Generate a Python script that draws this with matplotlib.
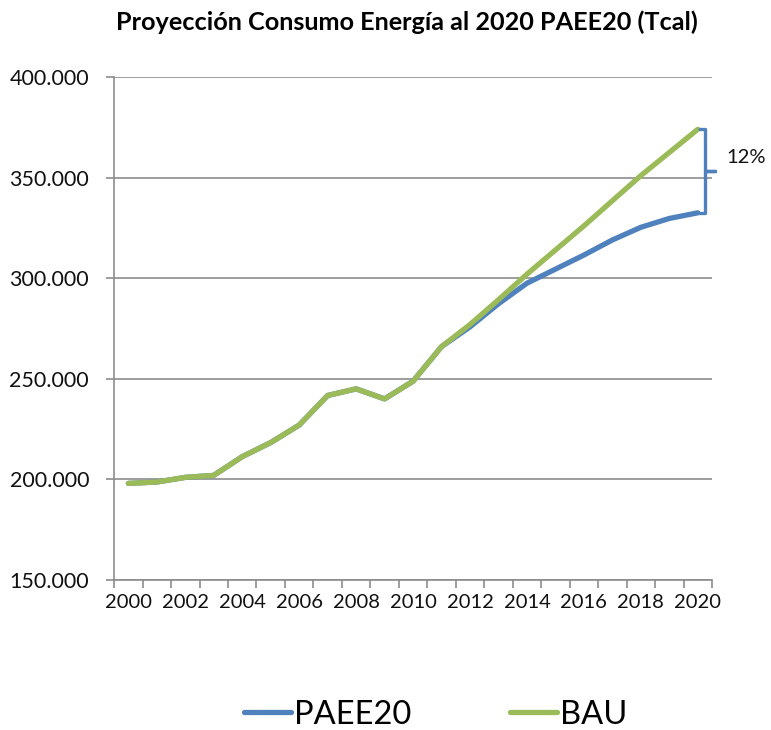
import matplotlib
matplotlib.use("Agg")
import matplotlib.pyplot as plt
from matplotlib.ticker import FuncFormatter, MultipleLocator
import numpy as np

plt.rcParams['font.family'] = ['Lato', 'DejaVu Sans']

# data (Tcal)
years = list(range(2000, 2021))
bau = [198000, 198700, 201000, 202000, 211300, 218300, 227000, 241700, 245000, 240000,
       248800, 266000, 277000, 289300, 302000, 314000, 326000, 338500, 351000, 362500, 374000]
paee = [198000, 198700, 201000, 202000, 211300, 218300, 227000, 241700, 245000, 240000,
        248800, 266000, 275800, 287300, 297500, 304500, 311500, 319000, 325300, 329700, 332500]
series_names = ["PAEE20", "BAU"]
gap_label = "12%"
title = "Proyección Consumo Energía al 2020 PAEE20 (Tcal)"

blue = "#4F81BD"
green = "#9BBB59"
gridc = "#8C8C8C"

fig = plt.figure(figsize=(7.71, 7.30), dpi=100)
ax = fig.add_axes([0.148, 0.2055, 0.7755, 0.689])

l1, = ax.plot(years, paee, color=blue, lw=3.8, solid_capstyle='round', label=series_names[0])
l2, = ax.plot(years, bau, color=green, lw=3.8, solid_capstyle='round', label=series_names[1])

ax.set_xlim(years[0] - 0.5, years[-1] + 0.5)
ax.set_ylim(150000, 400000)
ax.yaxis.set_major_locator(MultipleLocator(50000))
ax.yaxis.set_major_formatter(FuncFormatter(lambda v, p: f"{int(v):,}".replace(",", ".")))
ax.set_xticks(years[::2])
ax.set_xticks(np.arange(years[0] - 0.5, years[-1] + 1, 1), minor=True)
ax.tick_params(axis='x', which='major', length=0, labelsize=14.5, pad=10, labelcolor='#111111')
ax.tick_params(axis='x', which='minor', length=6, width=1.2, color=gridc, direction='out')
ax.tick_params(axis='y', length=6, width=1.2, color=gridc, labelsize=15.5, pad=12, labelcolor='#111111')

ax.grid(axis='y', color=gridc, lw=1.2)
ax.set_axisbelow(True)
for s in ['top', 'right']:
    ax.spines[s].set_visible(False)
for s in ['left', 'bottom']:
    ax.spines[s].set_color(gridc)
    ax.spines[s].set_linewidth(1.2)

# brace showing the gap between the scenarios in 2020
top, bot = bau[-1], paee[-1]
mid = (top + bot) / 2
xv = years[-1] + 0.27
bx = [xv - 0.2, xv, xv, xv + 0.35, xv, xv, xv - 0.2]
by = [top, top, mid, mid, mid, bot, bot]
ax.plot(bx, by, color=blue, lw=2.4, clip_on=False, solid_joinstyle='round')
ax.text(years[-1] + 1.0, mid + 6500, gap_label, fontsize=14.5, color='#111111',
        va='center', ha='left', clip_on=False)

fig.text(0.528, 0.969, title, ha='center', va='center', fontsize=18.2, fontweight='bold')

fig.legend(handles=[l1, l2], loc='center', bbox_to_anchor=(0.565, 0.021), ncol=2,
           frameon=False, fontsize=23.5, handlelength=1.45, handletextpad=0.1,
           columnspacing=3.0)

fig.savefig("out.png", dpi=100)
